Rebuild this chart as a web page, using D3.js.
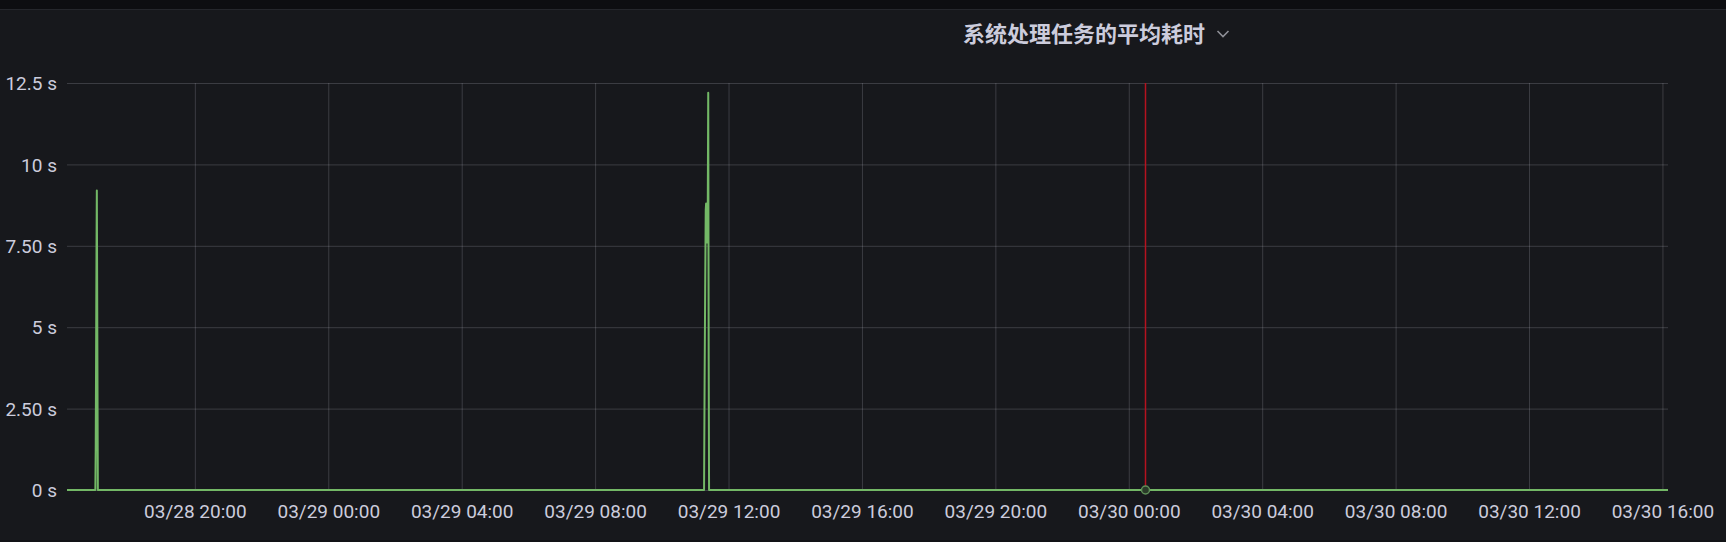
<!DOCTYPE html>
<html>
<head>
<meta charset="utf-8">
<script src="https://cdn.jsdelivr.net/npm/d3@7"></script>
<style>
  html, body { margin: 0; padding: 0; background: #17181c; overflow: hidden; }
  svg { display: block; }
</style>
</head>
<body>
<svg id="chart" width="1726" height="542"></svg>
<script>
// ---- data ----
const chartTitle = "系统处理任务的平均耗时";
const times = [
  "03/28 16:10:00",
  "03/28 17:01:00", "03/28 17:01:40", "03/28 17:02:10", "03/28 17:02:40", "03/28 17:03:10", "03/28 17:03:40", "03/28 17:05:30",
  "03/29 11:16:00", "03/29 11:17:00", "03/29 11:18:00", "03/29 11:19:00", "03/29 11:19:40", "03/29 11:20:20",
  "03/29 11:21:00", "03/29 11:21:40", "03/29 11:22:30", "03/29 11:23:30", "03/29 11:24:20", "03/29 11:25:00",
  "03/30 16:10:00"
];
const values = [
  0,
  0, 1.3, 3.4, 5.6, 7.6, 9.2, 0,
  0, 3.4, 6.2, 8.6, 8.8, 7.7,
  8.7, 7.6, 8.0, 12.2, 4.0, 0,
  0
];
const xDomain = ["03/28 16:10:00", "03/30 16:10:00"];
const xTickLabels = ["03/28 20:00", "03/29 00:00", "03/29 04:00", "03/29 08:00", "03/29 12:00", "03/29 16:00",
                     "03/29 20:00", "03/30 00:00", "03/30 04:00", "03/30 08:00", "03/30 12:00", "03/30 16:00"];
const yTickValues = [0, 2.5, 5, 7.5, 10, 12.5];
const yTickLabels = ["0 s", "2.50 s", "5 s", "7.50 s", "10 s", "12.5 s"];
const yDomain = [0, 12.5];
const markerTime = "03/30 00:30:00";

// ---- layout ----
const W = 1726, H = 542;
const plot = { left: 67, right: 1668, top: 83, bottom: 490 };
const svg = d3.select("#chart");

const parseT = d3.utcParse("%m/%d %H:%M:%S");
const parseTick = d3.utcParse("%m/%d %H:%M");
const fmtTick = d3.utcFormat("%m/%d %H:%M");

const x = d3.scaleUtc().domain(xDomain.map(parseT)).range([plot.left, plot.right]);
const y = d3.scaleLinear().domain(yDomain).range([plot.bottom, plot.top]);

// background panels
svg.append("rect").attr("x", 0).attr("y", 0).attr("width", W).attr("height", H).attr("fill", "#17181c");
svg.append("rect").attr("x", 0).attr("y", 0).attr("width", W).attr("height", 9).attr("fill", "#0d0e11");
svg.append("rect").attr("x", 0).attr("y", 9).attr("width", W).attr("height", 1).attr("fill", "#25272c");
svg.append("rect").attr("x", 0).attr("y", 540).attr("width", W).attr("height", 2).attr("fill", "#121316");

// title
svg.append("text")
  .attr("x", 1084).attr("y", 32)
  .attr("text-anchor", "middle")
  .attr("dominant-baseline", "central")
  .attr("fill", "#ccccdc")
  .attr("font-family", "'Noto Sans CJK SC', 'Noto Sans', sans-serif")
  .attr("font-weight", 600)
  .attr("font-size", 22)
  .text(chartTitle);
svg.append("polyline")
  .attr("points", "1217.5,31 1223,36.5 1228.5,31")
  .attr("fill", "none")
  .attr("stroke", "#8e8f96")
  .attr("stroke-width", 1.6);

// grid: horizontal
const gridColor = "rgba(204,204,220,0.2)";
const yAxis = d3.axisLeft(y)
  .tickValues(yTickValues)
  .tickSize(-(plot.right - plot.left))
  .tickPadding(10)
  .tickFormat((d, i) => yTickLabels[i]);
const gy = svg.append("g").attr("transform", `translate(${plot.left},0)`).call(yAxis);
gy.select(".domain").remove();
gy.selectAll(".tick line").attr("stroke", gridColor).attr("stroke-width", 1);
gy.selectAll(".tick text")
  .attr("fill", "#ccccdc")
  .attr("font-family", "Roboto, Inter, sans-serif")
  .attr("font-size", 19)
  .attr("x", -10)
  .attr("dy", "0.35em");

// grid: vertical + x labels
const xTicks = xTickLabels.map(parseTick);
const xAxis = d3.axisBottom(x)
  .tickValues(xTicks)
  .tickSize(-(plot.bottom - plot.top))
  .tickPadding(14)
  .tickFormat(fmtTick);
const gx = svg.append("g").attr("transform", `translate(0,${plot.bottom})`).call(xAxis);
gx.select(".domain").remove();
gx.selectAll(".tick line").attr("stroke", gridColor).attr("stroke-width", 1);
gx.selectAll(".tick text")
  .attr("fill", "#ccccdc")
  .attr("font-family", "Roboto, Inter, sans-serif")
  .attr("font-size", 19)
  .attr("y", 28)
  .attr("dy", "0");

// series line
const data = times.map((t, i) => ({ t: parseT(t), v: values[i] }));
const line = d3.line().x(d => x(d.t)).y(d => y(d.v));
svg.append("path")
  .datum(data)
  .attr("fill", "none")
  .attr("stroke", "#73b866")
  .attr("stroke-width", 2)
  .attr("stroke-linejoin", "round")
  .attr("d", line);

// time marker
const mx = Math.round(x(parseT(markerTime))) + 0.5;
svg.append("line")
  .attr("x1", mx).attr("x2", mx)
  .attr("y1", plot.top).attr("y2", plot.bottom)
  .attr("stroke", "#b5121f")
  .attr("stroke-width", 1.5);
svg.append("circle")
  .attr("cx", mx).attr("cy", y(0))
  .attr("r", 4)
  .attr("fill", "#2a3a29")
  .attr("stroke", "#5f8f58")
  .attr("stroke-width", 1.5);
</script>
</body>
</html>
